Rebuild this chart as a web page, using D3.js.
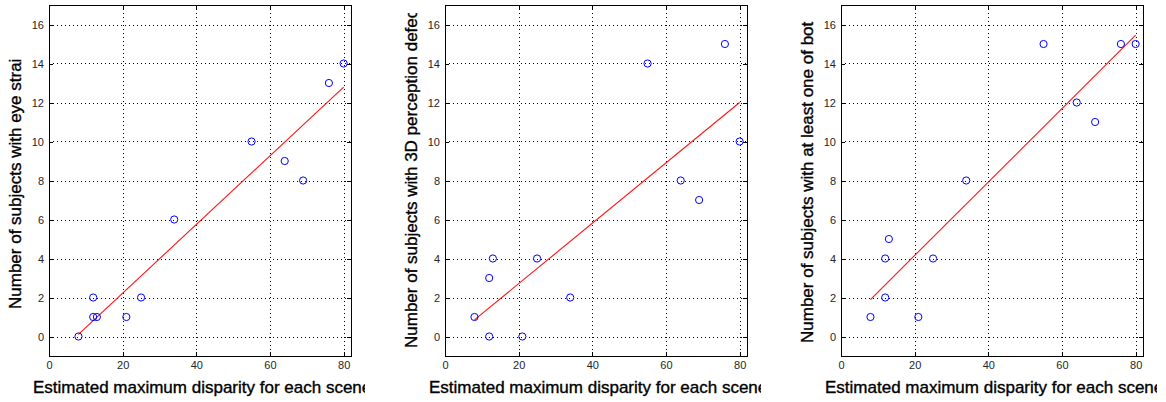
<!DOCTYPE html>
<html>
<head>
<meta charset="utf-8">
<script src="https://cdn.jsdelivr.net/npm/d3@7"></script>
<style>
  body { margin: 0; background: #fff; }
  svg { display: block; }
  text { font-family: "Liberation Sans", Arial, sans-serif; }
</style>
</head>
<body>
<svg id="chart" width="1166" height="402"></svg>
<script>
// Scene disparities (shared x values) and the three counts per scene
const disparity    = [8, 12, 12, 13, 21, 25, 34, 55, 64, 69, 76, 80];
const eyeStrain    = [0, 2, 1, 1, 1, 2, 6, 10, 9, 8, 13, 14];
const perception3D = [1, 0, 3, 4, 0, 4, 2, 14, 8, 7, 15, 10];
const atLeastOne   = [1, 2, 4, 5, 1, 4, 8, 15, 12, 11, 15, 15];

const xTicks = [0, 20, 40, 60, 80];
const yTicks = [0, 2, 4, 6, 8, 10, 12, 14, 16];
const xLabel = "Estimated maximum disparity for each scene";
const yLabels = [
  "Number of subjects with eye strai",
  "Number of subjects with 3D perception defec",
  "Number of subjects with at least one of bot"
];
const series = [eyeStrain, perception3D, atLeastOne];

// layout of the three axes boxes
const axLeft = [49, 445, 841];
const axWidth = 302;
const axTop = 5;
const axBottom = 356;
const yLabelStart = [309, 348, 343];

const svg = d3.select("#chart");

// least squares fit
function fitLine(xs, ys) {
  const mx = d3.mean(xs), my = d3.mean(ys);
  let sxy = 0, sxx = 0;
  xs.forEach((x, i) => { sxy += (x - mx) * (ys[i] - my); sxx += (x - mx) * (x - mx); });
  const slope = sxy / sxx;
  return x => my + slope * (x - mx);
}

series.forEach((ys, p) => {
  const left = axLeft[p];
  const right = left + axWidth;
  const x = d3.scaleLinear().domain([0, 82]).range([left, right]);
  const y = d3.scaleLinear().domain([-1, 17]).range([axBottom, axTop]);

  const g = svg.append("g");

  // dotted grid
  const grid = g.append("g")
    .attr("stroke", "#000")
    .attr("stroke-width", 1)
    .attr("stroke-dasharray", "1,3")
    .attr("shape-rendering", "crispEdges");
  grid.selectAll("line.gx").data(xTicks).join("line").attr("class", "gx")
    .attr("x1", d => Math.round(x(d)) + 0.5).attr("x2", d => Math.round(x(d)) + 0.5)
    .attr("y1", axTop).attr("y2", axBottom);
  grid.selectAll("line.gy").data(yTicks).join("line").attr("class", "gy")
    .attr("x1", left).attr("x2", right)
    .attr("y1", d => Math.round(y(d)) + 0.5).attr("y2", d => Math.round(y(d)) + 0.5);

  // axes with inward ticks
  const axisStyle = sel => {
    sel.select(".domain").remove();
    sel.selectAll("line").attr("stroke", "#000").attr("shape-rendering", "crispEdges");
    sel.selectAll("text").attr("fill", "#262626").style("font-size", "11px")
      .style("font-family", "'Liberation Sans', Arial, sans-serif");
  };
  g.append("g").attr("transform", `translate(0,${axBottom})`)
    .call(d3.axisBottom(x).tickValues(xTicks).tickSize(-4).tickPadding(5)).call(axisStyle);
  g.append("g").attr("transform", `translate(0,${axTop})`)
    .call(d3.axisTop(x).tickValues(xTicks).tickSize(-4).tickFormat("")).call(axisStyle);
  g.append("g").attr("transform", `translate(${left},0)`)
    .call(d3.axisLeft(y).tickValues(yTicks).tickSize(-4).tickPadding(5)).call(axisStyle);
  g.append("g").attr("transform", `translate(${right},0)`)
    .call(d3.axisRight(y).tickValues(yTicks).tickSize(-4).tickFormat("")).call(axisStyle);

  // box
  g.append("rect")
    .attr("x", left + 0.5).attr("y", axTop + 0.5)
    .attr("width", axWidth).attr("height", axBottom - axTop)
    .attr("fill", "none").attr("stroke", "#000").attr("stroke-width", 1)
    .attr("shape-rendering", "crispEdges");

  // regression line
  const f = fitLine(disparity, ys);
  const xr = d3.extent(disparity);
  g.append("path")
    .attr("d", d3.line().x(d => x(d)).y(d => y(f(d)))(xr))
    .attr("fill", "none")
    .attr("stroke", "rgb(255,20,20)").attr("stroke-width", 1.1);

  // points
  g.selectAll("circle").data(disparity.map((d, i) => [d, ys[i]])).join("circle")
    .attr("cx", d => x(d[0])).attr("cy", d => y(d[1]))
    .attr("r", 3.6)
    .attr("fill", "none").attr("stroke", "#0000ff").attr("stroke-width", 1);

  // labels, clipped like the original figure
  const clipId = "clip" + p;
  svg.append("clipPath").attr("id", clipId)
    .append("rect").attr("x", left - 60).attr("y", 13)
    .attr("width", axWidth + 60 + 14).attr("height", 402 - 13);
  const lab = g.append("g").attr("clip-path", `url(#${clipId})`)
    .attr("fill", "#000").attr("stroke", "#000").attr("stroke-width", 0.35)
    .style("font-size", "17px");
  lab.append("text")
    .attr("x", left - 16).attr("y", 393)
    .text(xLabel);
  lab.append("text")
    .attr("transform", `translate(${left - 28},${yLabelStart[p]}) rotate(-90)`)
    .text(yLabels[p]);
});
</script>
</body>
</html>
